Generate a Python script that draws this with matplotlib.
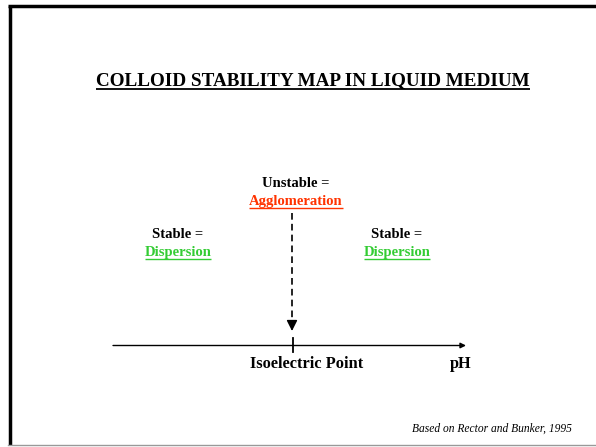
import numpy as np
import matplotlib
matplotlib.use("Agg")
import matplotlib.pyplot as plt

# labels on the map
title = "COLLOID STABILITY MAP IN LIQUID MEDIUM"
regionHeads = ["Stable =", "Unstable =", "Stable ="]
regionNames = ["Dispersion", "Agglomeration", "Dispersion"]
regionColors = ["#33cc33", "#ff3300", "#33cc33"]
axisLabels = ["Isoelectric Point", "pH"]
credit = "Based on Rector and Bunker, 1995"

W, H = 596, 447
fig = plt.figure(figsize=(W / 100, H / 100), dpi=100)
ax = fig.add_axes([0, 0, 1, 1])
ax.set_xlim(0, W)
ax.set_ylim(H, 0)
ax.axis("off")

serif = "Liberation Serif"


def underline(txt, dy, lw):
    fig.canvas.draw()
    bb = txt.get_window_extent().transformed(ax.transData.inverted())
    x0, x1 = sorted([bb.x0, bb.x1])
    y = txt.get_position()[1] + dy
    ax.plot([x0, x1], [y, y], color=txt.get_color(), lw=lw, solid_capstyle="butt")


# frame
ax.plot([9.5, 9.5], [6, 445], color="black", lw=2.5, solid_capstyle="butt")
ax.plot([8.25, W], [6, 6], color="black", lw=2.5, solid_capstyle="butt")
ax.plot([8, W], [444.5, 444.5], color="#999999", lw=1)

t = ax.text(313, 85, title, family=serif, weight="bold", fontsize=13.8,
            ha="center", va="baseline", color="black")
underline(t, 4, 1.3)

xs = [178, 296, 397]
yHead = [238, 187, 238]
for x, yh, head, name, col in zip(xs, yHead, regionHeads, regionNames, regionColors):
    ax.text(x, yh, head, family=serif, weight="bold", fontsize=10.5,
            ha="center", va="baseline", color="black")
    tn = ax.text(x, yh + 18, name, family=serif, weight="bold", fontsize=10.5,
                 ha="center", va="baseline", color=col)
    underline(tn, 2.5, 1)

# dashed arrow to the isoelectric point
ax.plot([292, 292], [213, 324], color="black", lw=1.2, ls=(0, (4, 2.5)))
ax.annotate("", xy=(292, 331), xytext=(292, 323),
            arrowprops=dict(arrowstyle="-|>,head_length=0.8,head_width=0.4",
                            color="black", lw=1,
                            mutation_scale=8, shrinkA=0, shrinkB=0))

# pH axis
ax.annotate("", xy=(466, 345.5), xytext=(113, 345.5),
            arrowprops=dict(arrowstyle="-|>", color="black", lw=1,
                            mutation_scale=8, shrinkA=0, shrinkB=0))
ax.plot([293, 293], [338, 352], color="black", lw=1.3)

ax.text(306.5, 368, axisLabels[0], family=serif, weight="bold", fontsize=11.8,
        ha="center", va="baseline")
ax.text(461, 368, axisLabels[1], family=serif, weight="bold", fontsize=11.8,
        ha="center", va="baseline")

ax.text(492, 432, credit, family=serif, style="italic", fontsize=8.3,
        ha="center", va="baseline")

fig.savefig("out.png", dpi=100)
